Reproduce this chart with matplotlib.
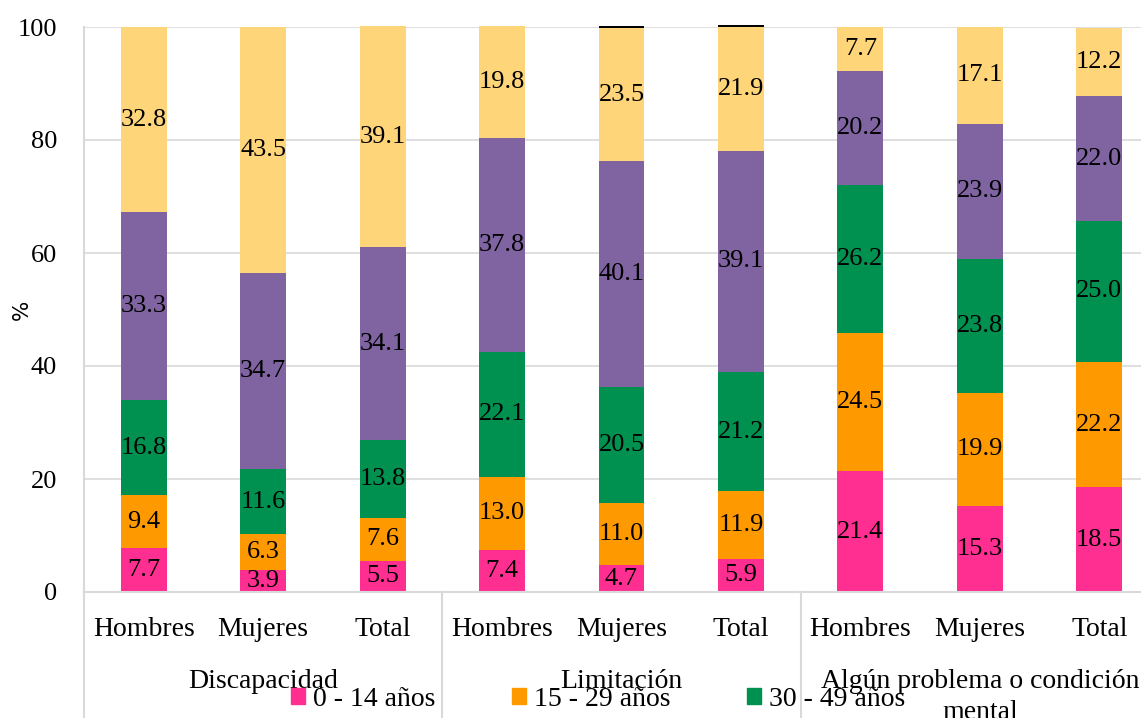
import numpy as np
import matplotlib.pyplot as plt
from matplotlib.patches import Patch

# data (percent per age band, stacked bottom to top)
categories = ["Hombres", "Mujeres", "Total"] * 3
groups = ["Discapacidad", "Limitación", "Algún problema o condición\nmental"]
age_0_14 = [7.7, 3.9, 5.5, 7.4, 4.7, 5.9, 21.4, 15.3, 18.5]
age_15_29 = [9.4, 6.3, 7.6, 13.0, 11.0, 11.9, 24.5, 19.9, 22.2]
age_30_49 = [16.8, 11.6, 13.8, 22.1, 20.5, 21.2, 26.2, 23.8, 25.0]
age_50_64 = [33.3, 34.7, 34.1, 37.8, 40.1, 39.1, 20.2, 23.9, 22.0]
age_65 = [32.8, 43.5, 39.1, 19.8, 23.5, 21.9, 7.7, 17.1, 12.2]
no_info = [0, 0, 0, 0, 0.35, 0.35, 0, 0, 0]

series = [age_0_14, age_15_29, age_30_49, age_50_64, age_65, no_info]
colors = ["#FF2F92", "#FF9900", "#00904F", "#8064A2", "#FFD579", "#000000"]
legend_labels = ["0 - 14 años", "15 - 29 años", "30 - 49 años"]

serif = "Liberation Serif"

fig = plt.figure(figsize=(11.41, 7.18), dpi=100)
ax = fig.add_axes([84 / 1141, 126 / 718, 1075 / 1141, 565 / 718])

x = np.arange(len(categories))
bottom = np.zeros(len(categories))
for vals, col in zip(series, colors):
    vals = np.array(vals)
    ax.bar(x, vals, 0.385, bottom=bottom, color=col, zorder=2, clip_on=False)
    if col != "#000000":
        for xi, b, v in zip(x, bottom, vals):
            ax.text(xi, b + v / 2, f"{v:.1f}", ha="center", va="center",
                    fontsize=19, family=serif, zorder=3)
    bottom += vals

ax.set_xlim(-0.5, len(categories) - 0.5)
ax.set_ylim(0, 100)
ax.set_yticks(range(0, 101, 20))
ax.yaxis.grid(True, color="#D9D9D9", linewidth=1.2, zorder=0)
ax.set_axisbelow(True)
for s in ["top", "right"]:
    ax.spines[s].set_visible(False)
ax.spines["left"].set_color("#D9D9D9")
ax.spines["bottom"].set_color("#D9D9D9")
ax.spines["left"].set_linewidth(1.5)
ax.spines["bottom"].set_linewidth(1.5)
ax.tick_params(length=0)
ax.set_xticks(x)
ax.set_xticklabels(categories, fontsize=20, family=serif)
ax.tick_params(axis="x", pad=18)
ax.tick_params(axis="y", pad=19.5)
for lab in ax.get_yticklabels():
    lab.set_fontsize(19)
    lab.set_family(serif)
fig.text(22 / 1141, 1 - 310 / 718, "%", rotation=90, ha="center",
         va="center", fontsize=15.5)

# group labels and separators below the axis
trans = ax.get_xaxis_transform()
for g, name in enumerate(groups):
    ax.text(3 * g + 1, -0.136, name, ha="center", va="top", fontsize=20,
            family=serif, transform=trans, linespacing=1.35)
for sep in [-0.5, 2.5, 5.5]:
    ax.plot([sep, sep], [0, -0.23], color="#D9D9D9", linewidth=1.5,
            transform=trans, clip_on=False)

handles = [Patch(color=c) for c in colors[:3]]
fig.legend(handles, legend_labels, loc="center", ncol=3,
           bbox_to_anchor=(598 / 1141, 1 - 699 / 718), frameon=False,
           prop={"family": serif, "size": 20}, handlelength=0.5,
           handleheight=0.5, handletextpad=0.3, columnspacing=2.75,
           borderpad=0)

fig.savefig("out.png", dpi=100)
